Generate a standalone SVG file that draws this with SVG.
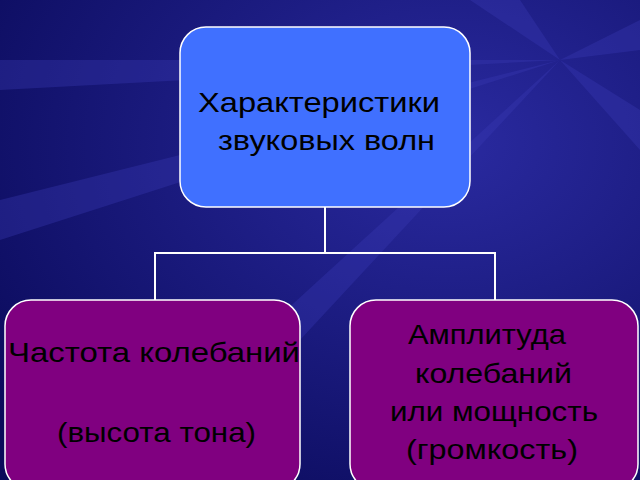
<svg xmlns="http://www.w3.org/2000/svg" width="640" height="480" viewBox="0 0 640 480">
<defs>
<radialGradient id="bg" cx="0.7" cy="0.3" r="0.9"><stop offset="0" stop-color="#2a2aa0"/><stop offset="1" stop-color="#0a0a5a"/></radialGradient>
<style>
.n{stroke:#fff;stroke-width:1.5}
.t{font-family:"Liberation Sans",Arial,sans-serif;font-size:28px;fill:#000}
.c{stroke:#fff;stroke-width:2;fill:none}
</style>
</defs>
<rect width="640" height="480" fill="url(#bg)"/>
<g fill="#3a3ab5" opacity="0.35">
<polygon points="560,60 640,20 640,50"/>
<polygon points="560,60 640,110 640,150"/>
<polygon points="560,60 470,0 520,0"/>
<polygon points="560,60 0,200 0,240"/>
<polygon points="560,60 100,480 170,480"/>
<polygon points="560,60 0,60 0,90"/>
</g>
<g id="connectors">
<path class="c" d="M325,207V253M155,300V253H495V300"/>
</g>
<g id="top">
<rect class="n" x="180" y="27" width="290" height="180" rx="26" fill="#4070ff"/>
<text class="t" x="198" y="112" textLength="242" lengthAdjust="spacingAndGlyphs">Характеристики</text>
<text class="t" x="218" y="150" textLength="217" lengthAdjust="spacingAndGlyphs">звуковых волн</text>
</g>
<g id="left">
<rect class="n" x="5" y="300" width="295" height="190" rx="26" fill="#800080"/>
<text class="t" x="8" y="362" textLength="292" lengthAdjust="spacingAndGlyphs">Частота колебаний</text>
<text class="t" x="57" y="442" textLength="199" lengthAdjust="spacingAndGlyphs">(высота тона)</text>
</g>
<g id="right">
<rect class="n" x="350" y="300" width="288" height="190" rx="26" fill="#800080"/>
<text class="t" x="408" y="344" textLength="158" lengthAdjust="spacingAndGlyphs">Амплитуда</text>
<text class="t" x="415" y="383" textLength="157" lengthAdjust="spacingAndGlyphs">колебаний</text>
<text class="t" x="390" y="421" textLength="208" lengthAdjust="spacingAndGlyphs">или мощность</text>
<text class="t" x="406" y="459" textLength="172" lengthAdjust="spacingAndGlyphs">(громкость)</text>
</g>
</svg>
